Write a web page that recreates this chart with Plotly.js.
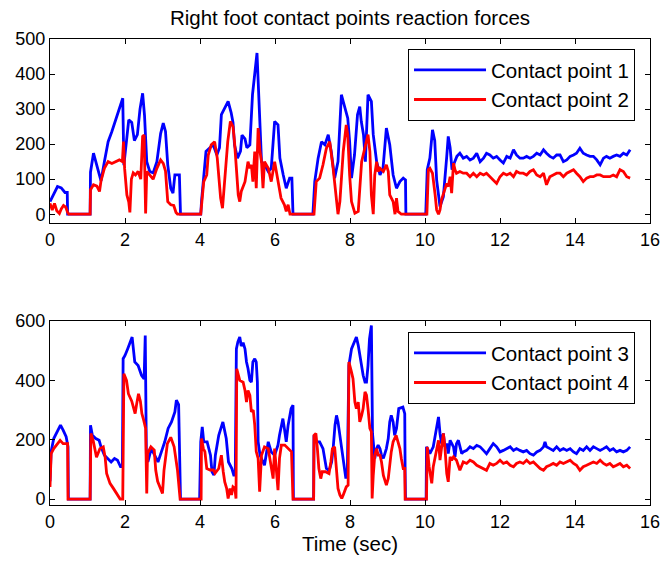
<!DOCTYPE html>
<html>
<head>
<meta charset="utf-8">
<script src="https://cdn.plot.ly/plotly-3.0.1.min.js"></script>
<style>html,body{margin:0;padding:0;background:#fff;}#chart{width:662px;height:564px;}</style>
</head>
<body>
<div id="chart"></div>
<script>
// ---- Contact point 1 (top, blue) ----
const t1 = [0,0.1,0.2,0.3,0.4,0.46,0.47,1.07,1.08,1.16,1.22,1.3,1.36,1.45,1.55,1.65,1.75,1.85,1.94,1.97,2.03,2.1,2.18,2.25,2.33,2.4,2.47,2.52,2.58,2.66,2.75,2.85,2.95,3.02,3.08,3.14,3.22,3.28,3.33,3.45,3.48,4.02,4.04,4.1,4.16,4.25,4.35,4.45,4.52,4.57,4.66,4.75,4.83,4.88,4.92,5.0,5.08,5.12,5.2,5.25,5.33,5.4,5.52,5.55,5.6,5.64,5.72,5.82,5.9,5.99,6.08,6.13,6.22,6.3,6.39,6.45,6.48,7.01,7.06,7.15,7.24,7.33,7.42,7.5,7.59,7.68,7.77,7.86,7.94,7.99,8.04,8.12,8.2,8.26,8.3,8.36,8.41,8.48,8.57,8.62,8.71,8.8,8.88,8.97,9.06,9.15,9.24,9.33,9.42,9.48,9.49,10.02,10.06,10.13,10.2,10.26,10.31,10.4,10.49,10.58,10.62,10.67,10.72,10.78,10.85,10.93,11.02,11.11,11.2,11.29,11.38,11.47,11.56,11.64,11.73,11.82,11.91,12.0,12.09,12.18,12.27,12.36,12.44,12.53,12.62,12.71,12.8,12.89,12.98,13.07,13.16,13.24,13.33,13.42,13.51,13.6,13.69,13.78,13.87,13.96,14.04,14.13,14.22,14.31,14.4,14.49,14.58,14.67,14.76,14.84,14.93,15.02,15.11,15.2,15.29,15.38,15.47];
const v1 = [36,60,79,75,62,62,0,0,120,174,150,112,95,150,207,236,269,307,331,140,200,269,262,210,227,300,345,283,150,122,118,150,230,260,236,141,74,60,112,112,0,0,36,103,179,188,198,169,190,284,303,322,290,262,198,160,180,226,215,190,198,341,460,370,255,150,141,122,131,265,255,160,112,74,103,103,0,0,93,160,207,198,227,179,103,150,341,303,274,207,103,169,284,307,265,227,150,341,322,227,150,112,131,246,198,112,74,93,103,98,0,0,127,160,241,210,98,22,50,165,222,190,127,146,165,174,160,165,155,160,174,150,160,174,169,160,165,155,146,165,160,184,169,160,160,165,160,165,174,169,184,174,165,160,169,169,150,155,165,169,174,188,174,169,165,165,155,141,160,165,160,165,169,165,174,169,184];

// ---- Contact point 2 (top, red) ----
const t2 = [0,0.06,0.12,0.18,0.25,0.3,0.36,0.42,0.47,0.5,1.07,1.08,1.16,1.25,1.32,1.36,1.45,1.55,1.65,1.75,1.85,1.93,1.96,1.99,2.05,2.1,2.13,2.17,2.22,2.28,2.35,2.42,2.47,2.51,2.55,2.58,2.66,2.75,2.85,2.95,3.02,3.08,3.14,3.22,3.3,3.36,3.4,4.02,4.05,4.1,4.18,4.22,4.3,4.39,4.46,4.5,4.55,4.6,4.65,4.74,4.81,4.88,4.92,4.97,5.02,5.06,5.1,5.2,5.28,5.33,5.37,5.41,5.46,5.5,5.55,5.6,5.64,5.68,5.72,5.82,5.9,5.99,6.07,6.16,6.25,6.3,6.35,6.4,7.04,7.1,7.19,7.28,7.37,7.46,7.55,7.6,7.68,7.73,7.82,7.9,7.94,7.99,8.04,8.13,8.22,8.31,8.4,8.48,8.53,8.57,8.62,8.66,8.71,8.75,8.8,8.89,8.97,9.02,9.06,9.15,9.2,9.24,9.28,9.37,10.05,10.09,10.13,10.2,10.27,10.31,10.36,10.4,10.44,10.49,10.58,10.62,10.67,10.71,10.76,10.8,10.84,10.93,11.02,11.11,11.2,11.29,11.38,11.47,11.56,11.64,11.73,11.82,11.91,12.0,12.09,12.18,12.27,12.36,12.44,12.53,12.62,12.71,12.8,12.89,12.98,13.07,13.16,13.24,13.33,13.42,13.51,13.6,13.69,13.78,13.87,13.96,14.04,14.13,14.22,14.31,14.4,14.49,14.58,14.67,14.76,14.84,14.93,15.02,15.11,15.2,15.29,15.38,15.47];
const v2 = [31,12,31,10,2,15,25,20,5,0,0,70,84,80,65,95,131,150,145,150,155,150,207,130,55,35,5,100,118,112,122,100,222,226,2,122,112,100,131,155,145,123,36,27,25,5,0,0,36,93,112,169,198,207,160,112,46,17,93,207,265,250,207,131,55,36,65,93,150,131,141,93,179,74,246,179,150,74,150,131,93,150,103,46,27,8,27,0,0,93,103,141,188,207,131,84,0,36,179,255,226,112,36,3,8,150,188,227,179,55,0,112,150,122,131,122,141,122,55,36,0,46,8,0,0,127,131,117,55,12,0,12,41,60,88,79,107,60,146,127,117,122,117,117,107,117,107,117,112,117,107,98,88,107,117,112,117,107,122,117,117,112,122,127,112,107,117,84,107,112,117,117,107,117,122,127,117,107,93,103,107,107,112,112,107,107,107,112,107,127,122,107,103];

// ---- Contact point 3 (bottom, blue) ----
const t3 = [0,0.03,0.1,0.2,0.28,0.35,0.43,0.48,0.49,1.07,1.08,1.13,1.22,1.31,1.36,1.45,1.54,1.63,1.72,1.8,1.88,1.93,1.95,2.0,2.07,2.13,2.19,2.26,2.35,2.44,2.51,2.54,2.57,2.61,2.7,2.79,2.88,2.97,3.06,3.15,3.24,3.33,3.37,3.43,3.47,3.48,3.99,4.02,4.06,4.1,4.19,4.23,4.28,4.32,4.37,4.41,4.5,4.61,4.7,4.76,4.85,4.9,4.94,4.97,5.01,5.06,5.1,5.15,5.2,5.24,5.28,5.33,5.37,5.41,5.46,5.5,5.53,5.55,5.6,5.68,5.72,5.82,5.9,5.99,6.08,6.12,6.21,6.25,6.3,6.35,6.43,6.48,6.49,7.03,7.04,7.1,7.19,7.28,7.33,7.37,7.42,7.46,7.51,7.55,7.6,7.64,7.68,7.73,7.77,7.86,7.89,7.93,7.97,8.04,8.11,8.17,8.22,8.26,8.31,8.35,8.4,8.44,8.48,8.52,8.57,8.58,8.6,8.66,8.71,8.75,8.8,8.84,8.89,8.97,9.02,9.06,9.1,9.15,9.19,9.24,9.3,9.41,9.46,9.47,9.48,10.03,10.04,10.09,10.13,10.22,10.31,10.36,10.4,10.44,10.49,10.53,10.58,10.62,10.67,10.76,10.8,10.84,10.89,10.93,10.98,11.02,11.11,11.2,11.29,11.38,11.47,11.56,11.64,11.73,11.82,11.91,12.0,12.09,12.18,12.27,12.36,12.44,12.53,12.62,12.71,12.8,12.89,12.98,13.07,13.16,13.2,13.24,13.33,13.42,13.51,13.6,13.69,13.78,13.87,13.96,14.04,14.13,14.22,14.31,14.4,14.49,14.58,14.67,14.76,14.84,14.93,15.02,15.11,15.2,15.29,15.38,15.47];
const v3 = [60,160,204,232,249,232,210,176,0,0,249,215,204,198,176,148,137,125,137,131,109,109,473,484,506,529,546,462,450,417,405,551,150,125,170,148,125,159,193,238,260,294,333,318,125,0,0,193,243,193,193,170,148,92,81,148,215,260,204,125,103,81,81,506,530,546,516,527,506,462,440,400,394,462,473,462,394,193,148,125,114,193,159,148,182,215,271,238,193,249,305,316,0,0,215,193,193,170,125,103,98,103,125,170,249,282,260,215,170,103,69,103,450,506,529,546,518,484,439,417,394,394,450,540,585,240,221,137,170,182,170,148,137,170,204,260,282,260,215,238,305,310,288,92,0,0,176,164,153,176,243,277,221,187,221,176,187,153,198,176,142,187,198,176,153,159,164,176,170,181,176,164,153,170,187,176,159,164,170,176,164,170,164,159,164,153,148,159,164,176,193,176,170,164,176,164,170,164,170,159,153,170,164,176,164,176,170,164,170,176,164,170,159,164,159,164,176];

// ---- Contact point 4 (bottom, red) ----
const t4 = [0,0.03,0.1,0.16,0.2,0.27,0.35,0.43,0.47,0.48,1.07,1.09,1.15,1.24,1.33,1.42,1.47,1.51,1.6,1.69,1.78,1.87,1.94,1.97,2.04,2.09,2.18,2.27,2.31,2.36,2.41,2.45,2.5,2.55,2.58,2.6,2.69,2.78,2.82,2.87,3.0,3.04,3.13,3.22,3.31,3.4,3.44,3.47,4.03,4.04,4.09,4.13,4.18,4.27,4.36,4.4,4.5,4.55,4.57,4.62,4.66,4.71,4.75,4.8,4.84,4.88,4.93,4.96,4.98,5.06,5.15,5.2,5.24,5.28,5.33,5.37,5.42,5.46,5.5,5.55,5.59,5.64,5.68,5.72,5.82,5.9,5.95,5.99,6.04,6.08,6.12,6.17,6.26,6.35,6.44,6.48,7.03,7.04,7.09,7.13,7.17,7.22,7.26,7.35,7.44,7.49,7.53,7.59,7.64,7.68,7.73,7.78,7.82,7.87,7.9,7.95,7.97,8.04,8.08,8.13,8.17,8.22,8.26,8.31,8.35,8.4,8.44,8.48,8.53,8.57,8.59,8.62,8.66,8.71,8.75,8.8,8.84,8.89,8.93,8.97,9.02,9.06,9.1,9.15,9.23,9.28,9.33,9.37,9.42,9.46,9.47,10.04,10.06,10.11,10.18,10.22,10.27,10.31,10.36,10.4,10.44,10.49,10.53,10.58,10.62,10.67,10.71,10.76,10.84,10.93,11.02,11.11,11.2,11.29,11.38,11.47,11.56,11.64,11.73,11.82,11.91,12.0,12.09,12.18,12.27,12.36,12.44,12.53,12.62,12.71,12.8,12.89,12.98,13.07,13.16,13.24,13.33,13.42,13.51,13.6,13.69,13.78,13.87,13.96,14.04,14.13,14.22,14.31,14.4,14.49,14.58,14.67,14.76,14.84,14.93,15.02,15.11,15.2,15.29,15.38,15.47];
const v4 = [41,153,170,180,187,198,187,187,187,0,0,221,198,141,170,176,141,86,53,36,19,0,0,422,400,355,330,288,320,355,330,288,265,238,19,153,176,165,97,60,19,97,187,208,176,97,41,0,0,204,170,160,103,98,98,87,103,137,148,92,58,36,2,36,14,41,36,2,439,400,394,366,327,366,350,294,300,249,160,137,25,148,159,176,170,103,69,170,80,30,137,182,182,170,159,0,0,215,221,170,103,69,92,92,86,125,170,176,103,36,14,2,14,36,41,47,462,428,406,327,305,327,260,282,305,361,350,305,238,227,2,80,148,170,148,148,125,80,58,47,69,125,159,193,215,193,170,136,103,103,0,0,176,109,53,109,142,164,198,131,176,221,176,86,58,142,131,142,131,97,125,120,131,125,114,109,103,97,120,114,120,131,120,125,114,109,120,125,120,131,120,125,114,103,97,109,114,120,114,125,120,125,131,120,114,97,109,114,120,125,120,131,120,114,120,109,114,120,109,114,103];

const names = ['Contact point 1','Contact point 2','Contact point 3','Contact point 4'];
const BLUE = '#0000ff', RED = '#ff0000';
const FONT = 'Liberation Sans, Arial, Helvetica, sans-serif';

const traces = [
  {x:t1, y:v1, name:names[0], xaxis:'x', yaxis:'y', legend:'legend', line:{color:BLUE,width:2.8}},
  {x:t2, y:v2, name:names[1], xaxis:'x', yaxis:'y', legend:'legend', line:{color:RED,width:2.8}},
  {x:t3, y:v3, name:names[2], xaxis:'x2', yaxis:'y2', legend:'legend2', line:{color:BLUE,width:2.8}},
  {x:t4, y:v4, name:names[3], xaxis:'x2', yaxis:'y2', legend:'legend2', line:{color:RED,width:2.8}}
].map(t => Object.assign({type:'scatter', mode:'lines'}, t));

const axBase = {showgrid:false, zeroline:false, showline:true, linecolor:'black', linewidth:1,
  mirror:'ticks', ticks:'inside', ticklen:5, tickcolor:'black', tickwidth:1,
  tickfont:{family:FONT, size:18, color:'black'}};

const legBase = {bordercolor:'black', borderwidth:1, bgcolor:'white',
  font:{family:FONT, size:20.5, color:'black'}, xref:'paper', yref:'paper',
  xanchor:'left', yanchor:'top', itemwidth:72, tracegroupgap:0};

const layout = {
  width:662, height:564,
  margin:{l:50, r:12, t:39, b:59, pad:0},
  paper_bgcolor:'white', plot_bgcolor:'white',
  font:{family:FONT, size:18, color:'black'},
  showlegend:true,
  title:{text:'Right foot contact points reaction forces', x:0.5, xref:'paper', xanchor:'center',
         y:1-18/564, yref:'container', yanchor:'middle', font:{family:FONT, size:20.5, color:'black'}},
  xaxis: Object.assign({}, axBase, {domain:[0,1], anchor:'y', range:[0,16], tick0:0, dtick:2}),
  yaxis: Object.assign({}, axBase, {domain:[0.6052,1], anchor:'x', range:[-25,500], tick0:0, dtick:100}),
  xaxis2: Object.assign({}, axBase, {domain:[0,1], anchor:'y2', range:[0,16], tick0:0, dtick:2,
          title:{text:'Time (sec)', font:{family:FONT, size:20.5, color:'black'}, standoff:4}}),
  yaxis2: Object.assign({}, axBase, {domain:[0,0.3948], anchor:'x2', range:[-20,600], tick0:0, dtick:200}),
  legend: Object.assign({}, legBase, {x:0.5967, y:0.9785}),
  legend2: Object.assign({}, legBase, {x:0.5967, y:0.3712})
};

Plotly.newPlot('chart', traces, layout, {staticPlot:true, displayModeBar:false});
</script>
</body>
</html>
